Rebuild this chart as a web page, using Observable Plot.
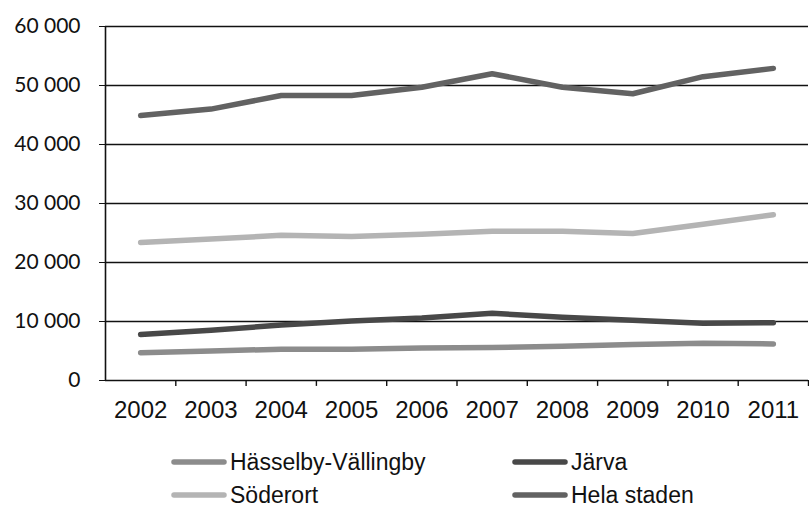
<!DOCTYPE html>
<html>
<head>
<meta charset="utf-8">
<script src="https://cdn.jsdelivr.net/npm/d3@7"></script>
<script src="https://cdn.jsdelivr.net/npm/@observablehq/plot@0.6"></script>
<style>
  html, body { margin: 0; padding: 0; background: #fff; }
  #wrap { position: relative; width: 809px; height: 514px; overflow: hidden; }
  #chart svg { display: block; }
  #chart [aria-label^="y-axis"] text { font-family: Lato, "Open Sans", sans-serif; font-size: 21px; }
  .leg { position: absolute; display: flex; align-items: center; font-family: "Liberation Sans", Arial, sans-serif; font-size: 23px; color: #111; white-space: nowrap; }
  .leg svg { display: block; margin-right: 3px; }
</style>
</head>
<body>
<div id="wrap">
  <div id="chart"></div>
  <div id="legend"></div>
</div>
<script>
const years = [2002, 2003, 2004, 2005, 2006, 2007, 2008, 2009, 2010, 2011];
const seriesNames = ["Hässelby-Vällingby", "Järva", "Söderort", "Hela staden"];
const hasselby = [4700, 5000, 5300, 5300, 5500, 5600, 5800, 6100, 6300, 6200];
const jarva = [7800, 8500, 9400, 10100, 10600, 11400, 10700, 10200, 9700, 9800];
const soderort = [23400, 24000, 24600, 24400, 24800, 25300, 25300, 24900, 26500, 28100];
const helaStaden = [44900, 46000, 48300, 48300, 49700, 52000, 49700, 48600, 51500, 52900];
const yTicks = [0, 10000, 20000, 30000, 40000, 50000, 60000];
const colors = ["#8c8c8c", "#484848", "#b4b4b4", "#626262"];

const seriesValues = [hasselby, jarva, soderort, helaStaden];
const data = [];
seriesNames.forEach((name, i) => {
  years.forEach((yr, j) => data.push({series: name, year: yr, value: seriesValues[i][j]}));
});
const boundaries = d3.range(years.length + 1).map(i => years[0] - 0.5 + i);

const fmt = d => d === 0 ? "0" : d3.format(",")(d).replace(/,/g, " ");

const chart = Plot.plot({
  width: 809,
  height: 430,
  marginTop: 26,
  marginBottom: 50,
  marginLeft: 105,
  marginRight: 1,
  style: {fontFamily: "'Liberation Sans', Arial, sans-serif", fontSize: "24px", color: "#111", background: "#fff"},
  x: {type: "linear", domain: [years[0] - 0.5, years[years.length - 1] + 0.5], ticks: years, tickFormat: d => String(d), tickSize: 0, tickPadding: 20, label: null},
  y: {domain: [0, 60000], ticks: yTicks, tickFormat: fmt, tickSize: 6, tickPadding: 19, label: null},
  color: {domain: seriesNames, range: colors},
  marks: [
    Plot.ruleY(yTicks, {stroke: "#111", strokeWidth: 1.6}),
    Plot.ruleX([boundaries[0]], {y1: 0, y2: 60000, stroke: "#111", strokeWidth: 1.6}),
    Plot.ruleX(boundaries.slice(1), {y1: 0, y2: -1000, stroke: "#111", strokeWidth: 1.4}),
    Plot.lineY(data, {x: "year", y: "value", z: "series", stroke: "series", strokeWidth: 5.5, strokeLinecap: "round", strokeLinejoin: "round"})
  ]
});
document.getElementById("chart").appendChild(chart);

// Legend (HTML below the SVG)
const legendPos = [
  {left: 171, top: 462},
  {left: 512, top: 462},
  {left: 171, top: 495},
  {left: 512, top: 495}
];
const legend = document.getElementById("legend");
seriesNames.forEach((name, i) => {
  const div = document.createElement("div");
  div.className = "leg";
  div.style.left = legendPos[i].left + "px";
  div.style.top = (legendPos[i].top - 15) + "px";
  div.style.height = "30px";
  div.innerHTML = `<svg width="56" height="10"><line x1="3" y1="5" x2="53" y2="5" stroke="${colors[i]}" stroke-width="5.5" stroke-linecap="round"/></svg><span>${name}</span>`;
  legend.appendChild(div);
});
</script>
</body>
</html>
